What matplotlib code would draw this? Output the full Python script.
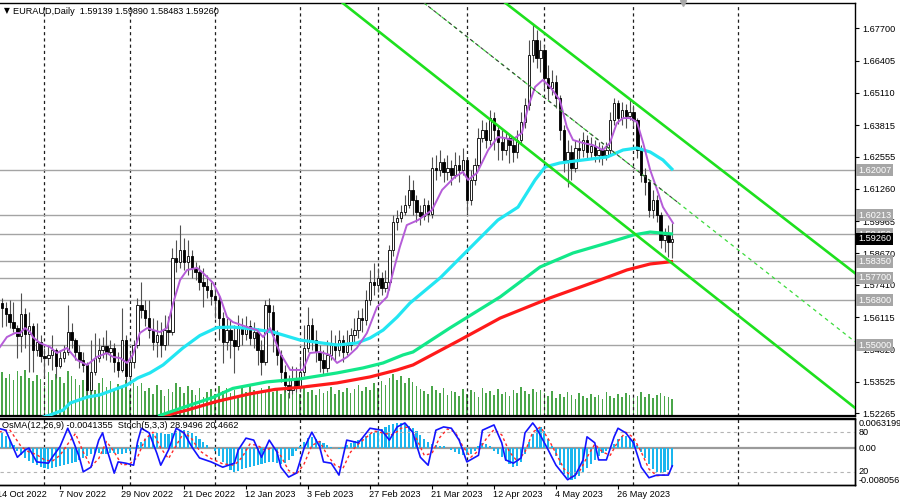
import numpy as np
import matplotlib
matplotlib.use("Agg")
import matplotlib.pyplot as plt
import matplotlib.transforms as mtrans

plt.rcParams['font.family'] = ['Liberation Sans', 'DejaVu Sans']

# ---- daily candles, EURAUD (bar 0 = 14 Oct 2022) ----
first_open = 1.5688
closes = [
    1.5668, 1.5648, 1.5624, 1.5592, 1.5568, 1.5536, 1.5624, 1.5544, 1.5576, 1.5480,
    1.5512, 1.5456, 1.5448, 1.5460, 1.5480, 1.5416, 1.5448, 1.5472, 1.5552, 1.5520,
    1.5472, 1.5440, 1.5420, 1.5320, 1.5392, 1.5448, 1.5480, 1.5496, 1.5472, 1.5488,
    1.5432, 1.5400, 1.5520, 1.5376, 1.5432, 1.5500, 1.5660, 1.5640, 1.5608, 1.5560,
    1.5512, 1.5540, 1.5500, 1.5560, 1.5552, 1.5849, 1.5833, 1.5881, 1.5833, 1.5857,
    1.5809, 1.5793, 1.5753, 1.5737, 1.5721, 1.5697, 1.5681, 1.5608, 1.5512, 1.5560,
    1.5520, 1.5496, 1.5568, 1.5544, 1.5576, 1.5528, 1.5552, 1.5480, 1.5432, 1.5660,
    1.5632, 1.5540, 1.5460, 1.5392, 1.5340, 1.5320, 1.5360, 1.5336, 1.5392, 1.5488,
    1.5580, 1.5520, 1.5472, 1.5440, 1.5408, 1.5460, 1.5500, 1.5480, 1.5520, 1.5472,
    1.5500, 1.5540, 1.5560, 1.5608, 1.5600, 1.5681, 1.5753, 1.5741, 1.5769, 1.5729,
    1.5753, 1.5881, 1.5993, 1.6009, 1.6033, 1.6061, 1.6122, 1.6082, 1.6033, 1.6017,
    1.6061, 1.6025, 1.6210, 1.6202, 1.6234, 1.6194, 1.6210, 1.6182, 1.6222, 1.6202,
    1.6242, 1.6082, 1.6162, 1.6222, 1.6330, 1.6362, 1.6322, 1.6410, 1.6362, 1.6314,
    1.6282, 1.6330, 1.6302, 1.6274, 1.6322, 1.6394, 1.6462, 1.6663, 1.6723, 1.6651,
    1.6683, 1.6571, 1.6531, 1.6555, 1.6490, 1.6362, 1.6242, 1.6274, 1.6210, 1.6290,
    1.6282, 1.6322, 1.6274, 1.6298, 1.6262, 1.6282, 1.6262, 1.6282, 1.6402, 1.6470,
    1.6410, 1.6442, 1.6418, 1.6434, 1.6402, 1.6282, 1.6182, 1.6154, 1.6041, 1.6082,
    1.6021, 1.5921, 1.5941, 1.5914, 1.5926]
highs = [
    1.5713, 1.5689, 1.5673, 1.5681, 1.5673, 1.5580, 1.5709, 1.5648, 1.5632, 1.5588,
    1.5588, 1.5540, 1.5488, 1.5500, 1.5540, 1.5488, 1.5480, 1.5500, 1.5660, 1.5588,
    1.5528, 1.5500, 1.5472, 1.5432, 1.5520, 1.5548, 1.5528, 1.5532, 1.5560, 1.5520,
    1.5508, 1.5472, 1.5648, 1.5540, 1.5472, 1.5520, 1.5689, 1.5753, 1.5681, 1.5681,
    1.5608, 1.5600, 1.5592, 1.5620, 1.5616, 1.5889, 1.5921, 1.5981, 1.5929, 1.5921,
    1.5881, 1.5833, 1.5821, 1.5809, 1.5781, 1.5753, 1.5729, 1.5697, 1.5632, 1.5608,
    1.5600, 1.5580, 1.5620, 1.5608, 1.5616, 1.5600, 1.5592, 1.5568, 1.5520, 1.5681,
    1.5689, 1.5660, 1.5560, 1.5480, 1.5420, 1.5380, 1.5416, 1.5412, 1.5440, 1.5580,
    1.5652, 1.5608, 1.5560, 1.5500, 1.5480, 1.5520, 1.5560, 1.5540, 1.5560, 1.5540,
    1.5560, 1.5568, 1.5608, 1.5640, 1.5648, 1.5721, 1.5801, 1.5829, 1.5809, 1.5793,
    1.5801, 1.5901, 1.6021, 1.6041, 1.6061, 1.6102, 1.6182, 1.6162, 1.6102, 1.6061,
    1.6089, 1.6081, 1.6254, 1.6262, 1.6282, 1.6250, 1.6262, 1.6242, 1.6274, 1.6262,
    1.6290, 1.6242, 1.6202, 1.6250, 1.6370, 1.6402, 1.6394, 1.6442, 1.6434, 1.6382,
    1.6362, 1.6354, 1.6342, 1.6330, 1.6362, 1.6434, 1.6491, 1.6723, 1.6783, 1.6763,
    1.6723, 1.6703, 1.6623, 1.6603, 1.6583, 1.6503, 1.6382, 1.6322, 1.6302, 1.6322,
    1.6330, 1.6354, 1.6342, 1.6334, 1.6322, 1.6314, 1.6302, 1.6314, 1.6434, 1.6491,
    1.6482, 1.6474, 1.6466, 1.6482, 1.6462, 1.6410, 1.6302, 1.6210, 1.6162, 1.6122,
    1.6102, 1.6033, 1.5969, 1.5981, 1.5989]
lows = [
    1.5632, 1.5572, 1.5576, 1.5568, 1.5552, 1.5448, 1.5472, 1.5488, 1.5392, 1.5392,
    1.5456, 1.5432, 1.5372, 1.5420, 1.5400, 1.5368, 1.5408, 1.5432, 1.5460, 1.5488,
    1.5440, 1.5408, 1.5392, 1.5300, 1.5308, 1.5380, 1.5432, 1.5448, 1.5440, 1.5432,
    1.5392, 1.5372, 1.5392, 1.5348, 1.5340, 1.5408, 1.5488, 1.5608, 1.5576, 1.5528,
    1.5480, 1.5452, 1.5452, 1.5480, 1.5500, 1.5540, 1.5793, 1.5809, 1.5801, 1.5781,
    1.5769, 1.5761, 1.5721, 1.5652, 1.5689, 1.5660, 1.5608, 1.5520, 1.5428, 1.5480,
    1.5448, 1.5388, 1.5480, 1.5500, 1.5520, 1.5500, 1.5488, 1.5420, 1.5380, 1.5420,
    1.5560, 1.5472, 1.5420, 1.5352, 1.5312, 1.5288, 1.5304, 1.5312, 1.5312, 1.5376,
    1.5472, 1.5480, 1.5432, 1.5392, 1.5380, 1.5392, 1.5440, 1.5440, 1.5456, 1.5432,
    1.5460, 1.5480, 1.5512, 1.5528, 1.5552, 1.5580, 1.5660, 1.5701, 1.5713, 1.5701,
    1.5713, 1.5721, 1.5857, 1.5961, 1.5993, 1.6021, 1.6049, 1.6021, 1.5993, 1.5981,
    1.6001, 1.5993, 1.6009, 1.6162, 1.6178, 1.6154, 1.6162, 1.6142, 1.6170, 1.6154,
    1.6182, 1.6029, 1.6061, 1.6142, 1.6202, 1.6314, 1.6290, 1.6302, 1.6282, 1.6242,
    1.6242, 1.6262, 1.6230, 1.6234, 1.6250, 1.6302, 1.6370, 1.6442, 1.6635, 1.6611,
    1.6595, 1.6531, 1.6482, 1.6503, 1.6450, 1.6322, 1.6194, 1.6133, 1.6162, 1.6194,
    1.6242, 1.6254, 1.6242, 1.6250, 1.6234, 1.6234, 1.6222, 1.6242, 1.6262, 1.6382,
    1.6386, 1.6382, 1.6370, 1.6402, 1.6378, 1.6250, 1.6154, 1.6102, 1.6013, 1.6009,
    1.5993, 1.5889, 1.5873, 1.5853, 1.5848]
volumes = [
    40, 44, 38, 42, 36, 45, 40, 46, 38, 35, 41, 37, 30, 44, 36, 42, 39, 33, 45, 40,
    37, 31, 36, 28, 34, 26, 33, 38, 29, 35, 27, 32, 30, 36, 26, 33,
    30, 33, 25, 28, 22, 31, 26, 20, 27, 24, 33, 29, 23, 30, 26, 21, 28, 19, 24, 27,
    22, 30, 25, 28, 23, 26, 20, 29, 24, 31, 26, 22, 28, 25, 30,
    24, 28, 22, 26, 23, 27, 25, 22, 28, 24, 26, 21, 27, 23, 25, 29, 22, 26, 24, 28,
    23, 27, 31, 25, 29, 26, 33, 28, 35, 31, 38, 42, 36, 40, 33,
    38, 34, 30, 27, 25, 22, 30, 26, 23, 28, 21, 25, 24, 20, 27, 22, 26, 24, 19, 28,
    23, 25, 21, 27, 22, 24, 20, 26, 23, 29, 25, 22, 27, 24, 26,
    23, 20, 25, 18, 22, 19, 24, 21, 17, 23, 20, 18, 22, 19, 21, 17, 24, 20, 18, 22,
    19, 23, 21, 18, 20, 24, 19, 22, 18, 21, 23, 20, 19, 17]

# ---- moving averages (vertices: bar index, price) ----
ma_fast_bars = [0.5, 2.3, 4.4, 5.7, 7.0, 8.3, 9.0, 10.8, 13.4, 15.2, 17.8, 20.4, 23.0, 25.5,
                28.1, 29.7, 31.5, 33.3, 34.8, 36.6, 38.5, 40.0, 41.8, 43.6, 45.2, 47.0, 48.8,
                51.4, 52.9, 55.5, 57.3, 59.1, 60.6, 64.3, 66.8, 68.4, 70.2, 72.8, 75.4, 78.7,
                80.5, 83.1, 85.7, 87.5, 90.1, 92.6, 95.2, 97.8, 100.4, 101.9, 103.7, 105.5,
                108.4, 112.0, 114.6, 117.9, 120.0, 121.3, 123.6, 126.5, 129.0, 130.8, 132.6,
                135.2, 136.8, 138.6, 140.6, 142.5, 145.0, 146.8, 148.4, 151.0, 153.5, 156.1,
                157.9, 159.7, 161.3, 163.1, 164.9, 166.5, 168.3, 170.1, 171.6, 174.2]
ma_fast = [1.5492, 1.5532, 1.5548, 1.5548, 1.5568, 1.5552, 1.5532, 1.5508, 1.5492, 1.5468,
           1.5488, 1.5440, 1.5420, 1.5452, 1.5468, 1.5452, 1.5448, 1.5428, 1.5460, 1.5548,
           1.5568, 1.5560, 1.5552, 1.5568, 1.5668, 1.5761, 1.5801, 1.5809, 1.5789, 1.5749,
           1.5693, 1.5612, 1.5592, 1.5572, 1.5560, 1.5532, 1.5568, 1.5468, 1.5400, 1.5400,
           1.5468, 1.5472, 1.5460, 1.5428, 1.5452, 1.5488, 1.5548, 1.5652, 1.5693, 1.5789,
           1.5893, 1.5981, 1.6001, 1.6041, 1.6122, 1.6174, 1.6194, 1.6162, 1.6190, 1.6282,
           1.6334, 1.6330, 1.6322, 1.6350, 1.6454, 1.6535, 1.6563, 1.6535, 1.6482, 1.6374,
           1.6322, 1.6310, 1.6302, 1.6282, 1.6310, 1.6390, 1.6410, 1.6410, 1.6394, 1.6310,
           1.6202, 1.6122, 1.6053, 1.5989]
ma50_bars = [10.8, 13.4, 16.8, 18.6, 23.0, 26.3, 33.3, 36.1, 39.2, 42.6, 47.7, 52.1, 56.5,
             60.6, 65.8, 71.0, 77.9, 87.5, 92.6, 96.0, 99.4, 103.0, 106.3, 114.1, 121.8,
             129.0, 134.2, 138.6, 141.2, 145.0, 151.0, 157.2, 161.3, 164.9, 168.3, 171.6, 174.2]
ma50 = [1.5207, 1.5219, 1.5239, 1.5267, 1.5291, 1.5300, 1.5340, 1.5368, 1.5388, 1.5420,
        1.5488, 1.5538, 1.5570, 1.5572, 1.5564, 1.5552, 1.5520, 1.5500, 1.5508, 1.5528,
        1.5560, 1.5612, 1.5668, 1.5769, 1.5889, 1.6001, 1.6053, 1.6162, 1.6214, 1.6230,
        1.6242, 1.6254, 1.6282, 1.6290, 1.6274, 1.6242, 1.6201]
ma144_bars = [41.3, 48.8, 55.5, 60.6, 69.4, 77.9, 87.5, 94.2, 99.4, 104.5, 107.1, 116.6,
              129.6, 139.9, 148.4, 157.2, 163.9, 168.3, 174.2]
ma144 = [1.5215, 1.5255, 1.5290, 1.5326, 1.5352, 1.5364, 1.5388, 1.5408, 1.5428, 1.5460,
         1.5472, 1.5568, 1.5693, 1.5813, 1.5869, 1.5909, 1.5941, 1.5953, 1.5945]
ma200_bars = [41.8, 48.8, 56.5, 65.0, 71.5, 77.9, 87.5, 96.0, 103.0, 107.1, 119.2, 129.6,
              142.5, 155.4, 162.3, 168.3, 174.2]
ma200 = [1.5212, 1.5239, 1.5274, 1.5304, 1.5322, 1.5330, 1.5348, 1.5372, 1.5400, 1.5420,
         1.5520, 1.5608, 1.5689, 1.5761, 1.5801, 1.5825, 1.5835]

# channel lines, two anchor points each (bar, price)
chan_upper = [(131, 1.6871), (221, 1.5790)]
chan_lower = [(89, 1.6871), (221, 1.5250)]
chan_mid = [(110, 1.6871), (221, 1.5515)]
chan_mid_dark_end = (176, 1.6065)

levels = [1.62007, 1.60213, 1.59450, 1.58350, 1.57700, 1.56800, 1.55000]
last_price = 1.59260
price_ticks = [1.67700, 1.66405, 1.65110, 1.63815, 1.62555, 1.61260, 1.59965,
               1.58670, 1.57410, 1.56115, 1.54820, 1.53525, 1.52265]

# ---- OsMA(12,26,9) histogram and Stoch(5,3,3) ----
osma = [
    0.0039, 0.0035, 0.0026, 0.0017, 0.0007,
    -0.0007, -0.0015, -0.0022, -0.0028, -0.0033, -0.0037,
    -0.0041, -0.0044, -0.0046, -0.0044, -0.0041,
    -0.0039, -0.0037, -0.0035, -0.0033, -0.0030,
    -0.0026, -0.0022, -0.0017, -0.0013, -0.0011, -0.0011, -0.0013, -0.0013,
    -0.0011, -0.0011, -0.0013, -0.0013, -0.0011, -0.0007,
    -0.0002,
    0.0007, 0.0013, 0.0020, 0.0026, 0.0030, 0.0033, 0.0033, 0.0030, 0.0030,
    0.0033, 0.0037, 0.0039, 0.0039, 0.0037, 0.0033, 0.0026, 0.0020,
    0.0013, 0.0007, 0.0000, -0.0007,
    -0.0017, -0.0030, -0.0039, -0.0048, -0.0052, -0.0050,
    -0.0046, -0.0044, -0.0041, -0.0039, -0.0037, -0.0035, -0.0033, -0.0030,
    -0.0030, -0.0033, -0.0035, -0.0033, -0.0026, -0.0017,
    -0.0007,
    0.0004, 0.0013, 0.0022, 0.0024, 0.0020, 0.0015, 0.0011, 0.0007, 0.0002,
    0.0000, -0.0002, 0.0002,
    0.0007, 0.0011, 0.0015, 0.0017, 0.0022, 0.0026, 0.0030, 0.0033, 0.0037, 0.0041,
    0.0046, 0.0050, 0.0052, 0.0054, 0.0054,
    0.0052, 0.0048, 0.0044, 0.0037, 0.0028, 0.0020, 0.0013, 0.0009,
    0.0007, 0.0004, 0.0004, 0.0000, -0.0004,
    -0.0009, -0.0013, -0.0015, -0.0015, -0.0013,
    -0.0007, 0.0004, 0.0011,
    0.0009, 0.0004,
    -0.0007, -0.0013, -0.0020, -0.0028, -0.0035, -0.0041, -0.0039, -0.0030,
    -0.0013,
    0.0013, 0.0030, 0.0044, 0.0046, 0.0037, 0.0020,
    0.0004,
    -0.0017, -0.0037, -0.0057, -0.0065, -0.0070, -0.0068, -0.0061, -0.0052,
    -0.0044, -0.0035, -0.0026, -0.0017, -0.0011, -0.0007, -0.0002,
    0.0009, 0.0020, 0.0026, 0.0026, 0.0022, 0.0015, 0.0007,
    -0.0009, -0.0022, -0.0035, -0.0046, -0.0052, -0.0054, -0.0052, -0.0048, -0.0041]
osma_top, osma_bottom = 0.0063199, -0.008056

stoch_k_bars = [0, 2, 5, 7, 8, 10, 13, 14, 16, 18, 19, 21, 22, 24, 26, 27, 28, 30, 31, 33,
                35, 36, 37, 39, 41, 42, 44, 46, 48, 50, 52, 55, 58, 61, 62, 64, 66, 68, 70, 72,
                73, 75, 77, 79, 81, 83, 84, 86, 88, 89, 90, 93, 94, 96, 99, 101, 103, 105, 107,
                109, 111, 113, 115, 117, 119, 121, 124, 125, 128, 130, 131, 133, 135, 136, 138,
                139, 142, 144, 147, 149, 151, 152, 154, 155, 157, 159, 160, 162, 164, 166, 168,
                170, 172, 173, 174]
stoch_k = [86, 83, 42, 53, 56, 35, 33, 42, 58, 86, 73, 42, 20, 27, 68, 79, 56, 18, 35, 33,
           30, 65, 86, 79, 48, 30, 53, 86, 79, 58, 41, 35, 27, 33, 53, 71, 68, 42, 68, 50,
           27, 12, 18, 56, 80, 58, 35, 33, 15, 42, 68, 64, 71, 86, 83, 68, 88, 94, 80, 42,
           30, 83, 88, 86, 68, 35, 45, 83, 91, 64, 38, 33, 41, 79, 94, 86, 53, 30, 8, 15,
           38, 73, 64, 38, 38, 73, 86, 79, 64, 27, 11, 15, 15, 15, 29]
stoch_d_bars = [0, 3, 6, 8, 10, 12, 14, 16, 18, 20, 22, 24, 26, 28, 30, 32, 34, 36, 38, 40,
                42, 44, 46, 48, 50, 52, 55, 58, 61, 63, 65, 67, 69, 71, 73, 75, 77, 79, 81, 83,
                85, 87, 89, 91, 93, 95, 97, 100, 102, 104, 106, 108, 110, 112, 114, 116, 118,
                120, 122, 124, 126, 128, 130, 132, 134, 136, 138, 140, 142, 144, 146, 148, 150,
                152, 154, 156, 158, 160, 162, 164, 166, 168, 170, 172, 174]
stoch_d = [80, 84, 58, 50, 46, 38, 36, 45, 62, 78, 50, 28, 40, 66, 50, 30, 32, 42, 70, 80,
           56, 40, 60, 80, 70, 52, 40, 32, 30, 42, 62, 60, 52, 58, 44, 22, 16, 32, 60, 66,
           45, 30, 25, 50, 62, 72, 82, 78, 76, 86, 88, 70, 45, 48, 72, 85, 80, 58, 42, 52,
           70, 84, 76, 50, 36, 50, 80, 88, 70, 48, 25, 12, 20, 42, 62, 50, 45, 66, 80, 72,
           50, 24, 14, 15, 20]

# month separators and date labels (bar index)
month_bars = [12, 34, 56, 78, 98, 121, 141, 164, 191]
date_bars = [0, 16, 32, 48, 64, 80, 96, 112, 128, 144, 160]
date_labels = ['14 Oct 2022', '7 Nov 2022', '29 Nov 2022', '21 Dec 2022', '12 Jan 2023',
               '3 Feb 2023', '27 Feb 2023', '21 Mar 2023', '12 Apr 2023', '4 May 2023',
               '26 May 2023']

# ---------------------------------------------------------------
W, H = 900, 503
FS = 6.6


def px_box(l, t, r, b):
    return [l / W, 1 - b / H, (r - l) / W, (b - t) / H]


fig = plt.figure(figsize=(W / 100, H / 100), dpi=100)
fig.patch.set_facecolor('white')

x_lim = (0.52, 221.16)
y_lim = (1.52153, 1.68715)

ax_vol = fig.add_axes(px_box(0, 3, 855, 416))
ax = fig.add_axes(px_box(0, 3, 855, 416))
ax.set_facecolor('none')
ax_osma = fig.add_axes(px_box(0, 419, 855, 485))
ax_st = ax_osma.twinx()

x = np.arange(len(closes))
closes = np.array(closes)
opens = np.r_[first_open, closes[:-1]]
highs = np.array(highs)
lows = np.array(lows)

# volumes behind everything
ax_vol.bar(x, volumes, width=0.42, color='#4aa64a', linewidth=0)
ax_vol.set_xlim(*x_lim)
ax_vol.set_ylim(0, 413)
ax_vol.axis('off')

# month separators
for b in month_bars:
    ax.axvline(b, color='#1e1e1e', lw=0.9, ls=(0, (2.5, 2.5)), zorder=1)
    ax_osma.axvline(b, color='#1e1e1e', lw=0.9, ls=(0, (2.5, 2.5)), zorder=1)

# horizontal levels
for lv in levels:
    ax.axhline(lv, color='#a4a4a4', lw=1.0, zorder=2)

# candles
up = closes >= opens
ax.vlines(x, lows, highs, color='#505050', lw=0.8, zorder=3)
ax.bar(x[up], (closes - opens)[up], bottom=opens[up], width=0.62,
       color='white', edgecolor='black', lw=0.6, zorder=4)
ax.bar(x[~up], (opens - closes)[~up], bottom=closes[~up], width=0.62,
       color='black', edgecolor='black', lw=0.6, zorder=4)

# moving averages
ax.plot(ma200_bars, ma200, color='#ff1a1a', lw=2.3, zorder=5, solid_capstyle='butt')
ax.plot(ma144_bars, ma144, color='#12e88a', lw=2.3, zorder=5, solid_capstyle='butt')
ax.plot(ma50_bars, ma50, color='#22e6f2', lw=2.3, zorder=5, solid_capstyle='butt')
ax.plot(ma_fast_bars, ma_fast, color='#b55cd8', lw=1.4, zorder=5)

# channel
ax.axline(*chan_upper, color='#1ee01e', lw=1.9, zorder=6)
ax.axline(*chan_lower, color='#1ee01e', lw=1.9, zorder=6)
ax.axline(*chan_mid, color='#3cdc3c', lw=0.9, ls=(0, (3, 3)), zorder=6)
ax.plot([chan_mid[0][0], chan_mid_dark_end[0]], [chan_mid[0][1], chan_mid_dark_end[1]],
        color='#404040', lw=0.8, ls=(1.5, (3, 3)), zorder=6)

ax.set_xlim(*x_lim)
ax.set_ylim(*y_lim)
ax.set_xticks([])
ax.yaxis.tick_right()
ax.set_yticks(price_ticks)
ax.set_yticklabels([f'{v:.5f}' for v in price_ticks])
ax.tick_params(axis='y', length=3, width=0.8, pad=2, labelsize=FS, colors='black')
ax.spines['left'].set_visible(False)
for s in ('top', 'right', 'bottom'):
    ax.spines[s].set_color('black')
ax.spines['top'].set_linewidth(1.0)
ax.spines['right'].set_linewidth(1.0)
ax.spines['bottom'].set_linewidth(1.6)

# level boxes on the price scale
ytr = ax.get_yaxis_transform()
for lv in levels:
    ax.text(1.0035, lv, f'{lv:.5f}', transform=ytr, fontsize=FS, color='white',
            ha='left', va='center', clip_on=False, zorder=10,
            bbox=dict(boxstyle='square,pad=0.18', fc='#a6a6a6', ec='none'))
ax.text(1.0035, last_price, f'{last_price:.5f}', transform=ytr, fontsize=FS, color='white',
        ha='left', va='center', clip_on=False, zorder=11,
        bbox=dict(boxstyle='square,pad=0.18', fc='black', ec='none'))

# chart shift marker
ax.plot([176.8], [1.0], marker='v', ms=5, color='#a8a8a8',
        transform=mtrans.blended_transform_factory(ax.transData, ax.transAxes),
        clip_on=False, zorder=10)

# header
fig.text(4 / W, 1 - 11 / H, '\u25bc', fontsize=5.5, color='black', va='center',
         family=['DejaVu Sans'])
fig.text(13 / W, 1 - 11 / H, 'EURAUD,Daily  1.59139 1.59890 1.58483 1.59260',
         fontsize=FS, color='black', va='center')

# ---- indicator window ----
ax_osma.bar(x[:len(osma)], osma, width=0.55, color='#1ab6ee', linewidth=0, zorder=2)
ax_osma.axhline(0, color='#9a9a9a', lw=1.6, zorder=1)
ax_osma.set_xlim(*x_lim)
ax_osma.set_ylim(osma_bottom, osma_top)
ax_osma.set_yticks([])
ax_osma.set_xticks([b for b in date_bars if b > x_lim[0]])
ax_osma.set_xticklabels([])
ax_osma.tick_params(axis='x', length=3, width=0.8, colors='black')

ax_st.set_ylim(0, 100)
ax_st.set_xlim(*x_lim)
ax_st.axhline(80, color='#b4b4b4', lw=0.8, ls=(0, (3, 3)), zorder=1)
ax_st.axhline(20, color='#b4b4b4', lw=0.8, ls=(0, (3, 3)), zorder=1)
ax_st.plot(stoch_d_bars, stoch_d, color='#ff2a2a', lw=1.0, ls=(0, (2, 2)), zorder=3)
ax_st.plot(stoch_k_bars, stoch_k, color='#1414ff', lw=1.2, zorder=4)
ax_st.set_yticks([])

for a in (ax_osma, ax_st):
    a.spines['left'].set_visible(False)
    a.spines['top'].set_linewidth(1.6)
    a.spines['bottom'].set_linewidth(1.0)
    a.spines['right'].set_linewidth(1.0)

ax_st.text(0.002, 0.9, 'OsMA(12,26,9) -0.0041355  Stoch(5,3,3) 28.9496 20.4662',
           transform=ax_st.transAxes, fontsize=FS, color='black', va='center', ha='left',
           zorder=10)

ax_osma.text(1.004, 1.0, f'{osma_top:.7f}', transform=ax_osma.transAxes, fontsize=FS,
             va='top', ha='left', clip_on=False)
ax_osma.text(1.004, 0.0, '0.00', transform=ax_osma.get_yaxis_transform(), fontsize=FS,
             va='center', ha='left', clip_on=False)
ax_osma.text(1.004, 0.0, f'{osma_bottom:.6f}', transform=ax_osma.transAxes, fontsize=FS,
             va='bottom', ha='left', clip_on=False)
ax_st.text(1.004, 80, '80', transform=ax_st.get_yaxis_transform(), fontsize=FS,
           va='center', ha='left', clip_on=False)
ax_st.text(1.004, 20, '20', transform=ax_st.get_yaxis_transform(), fontsize=FS,
           va='center', ha='left', clip_on=False)

# date labels
xtr = ax_osma.get_xaxis_transform()
for b, lab in zip(date_bars, date_labels):
    ax_osma.text(b - 0.3, -0.07, lab, transform=xtr, fontsize=FS, ha='left', va='top',
                 clip_on=False)

fig.savefig('out.png', dpi=100, facecolor='white')
